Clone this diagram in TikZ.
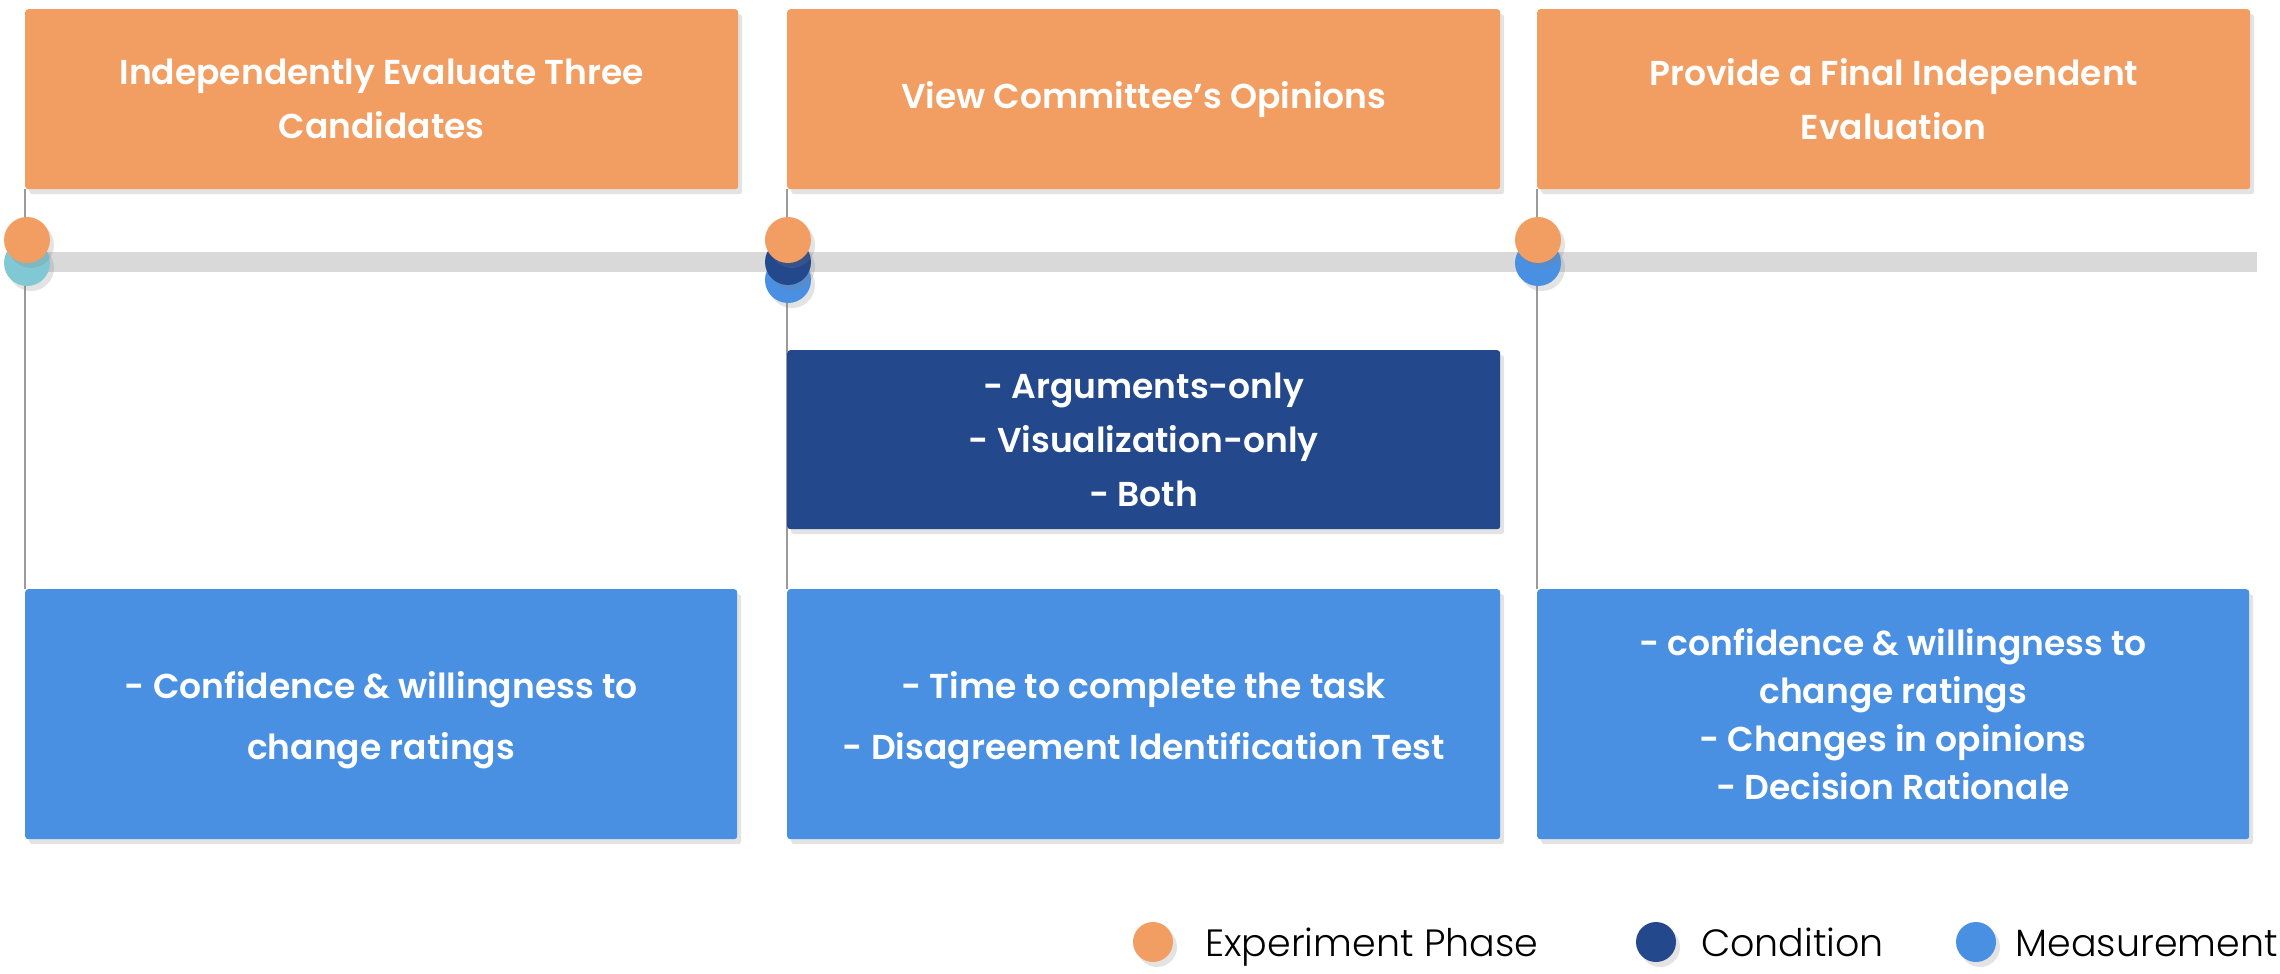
\documentclass[tikz,border=0pt]{standalone}
\usepackage{fontspec}
\setmainfont{Poppins}
\newfontfamily\boxf{Poppins SemiBold}
\newfontfamily\legf{Poppins Light}
\usetikzlibrary{shadows}
\definecolor{orng}{HTML}{F29E63}
\definecolor{dblue}{HTML}{23488C}
\definecolor{lblue}{HTML}{4A90E2}
\definecolor{tealc}{HTML}{80C9D4}
\definecolor{barg}{HTML}{D9D9D9}
\definecolor{lineg}{HTML}{9A9A9A}
\pgfdeclarelayer{bg}
\pgfsetlayers{bg,main}
\tikzset{
  shad/.style={drop shadow={opacity=0.22, shadow xshift=4pt, shadow yshift=-5pt}},
  box/.style={rounded corners=3pt, minimum width=713pt, inner sep=0pt, align=center,
    text=white, anchor=north west, shad},
  boxfont/.style={font=\boxf\fontsize{34.5}{#1}\selectfont},
  dot/.style={circle, minimum size=46pt, inner sep=0pt, shad},
  ldot/.style={circle, minimum size=40pt, inner sep=0pt, shad},
  ltext/.style={anchor=base west, inner sep=0pt, font=\legf\fontsize{38}{48}\selectfont},
  vline/.style={draw=lineg, line width=1.5pt},
}
\begin{document}
\begin{tikzpicture}[x=1pt,y=-1pt]
\useasboundingbox (0,0) rectangle (2280,974);
% timeline bar
\node[fill=barg, minimum width=2232pt, minimum height=20pt, inner sep=0pt, anchor=west] (bar) at (25,262) {};
% circles
\node[dot, fill=tealc] (t1) at (27,263) {};
\node[dot, fill=orng] (o1) at (27,240) {};
\node[dot, fill=lblue] (l2) at (788,280) {};
\node[dot, fill=dblue] (d2) at (788,262) {};
\node[dot, fill=orng] (o2) at (788,240) {};
\node[dot, fill=lblue] (l3) at (1538,263) {};
\node[dot, fill=orng] (o3) at (1538,240) {};
% phase boxes
\node[box, boxfont=54, fill=orng, minimum height=180pt] (p1) at (25,9) {Independently Evaluate Three\\Candidates};
\node[box, boxfont=54, fill=orng, minimum height=180pt] (p2) at (787,9) {View Committee’s Opinions};
\node[box, boxfont=54, fill=orng, minimum height=180pt] (p3) at (1537,9) {Provide a Final Independent\\Evaluation};
% condition box
\node[box, boxfont=54, fill=dblue, minimum height=179pt] (cond) at (787,350) {- Arguments-only\\- Visualization-only\\- Both};
% measurement boxes
\node[box, boxfont=61, fill=lblue, minimum height=250pt, minimum width=712pt] (m1) at (25,589) {\rule{0pt}{38pt}- Confidence \& willingness to\\change ratings};
\node[box, boxfont=61, fill=lblue, minimum height=250pt] (m2) at (787,589) {\rule{0pt}{38pt}- Time to complete the task\\- Disagreement Identification Test};
\node[box, boxfont=48, fill=lblue, minimum height=250pt, minimum width=712pt] (m3) at (1537,589) {- confidence \& willingness to\\change ratings\\- Changes in opinions\\- Decision Rationale};
% vertical lines behind everything
\begin{pgfonlayer}{bg}
\draw[vline] (p1.south west) -- (m1.north west);
\draw[vline] (p2.south west) -- (m2.north west);
\draw[vline] (p3.south west) -- (m3.north west);
\end{pgfonlayer}
% legend
\node[ldot, fill=orng] (lg1) at (1153,942) {};
\node[ltext] (lt1) at (1205,956) {Experiment Phase};
\node[ldot, fill=dblue] (lg2) at (1656,942) {};
\node[ltext] (lt2) at (1701,956) {Condition};
\node[ldot, fill=lblue] (lg3) at (1976,942) {};
\node[ltext, anchor=base east] (lt3) at (2278,956) {Measurement};
\end{tikzpicture}
\end{document}
